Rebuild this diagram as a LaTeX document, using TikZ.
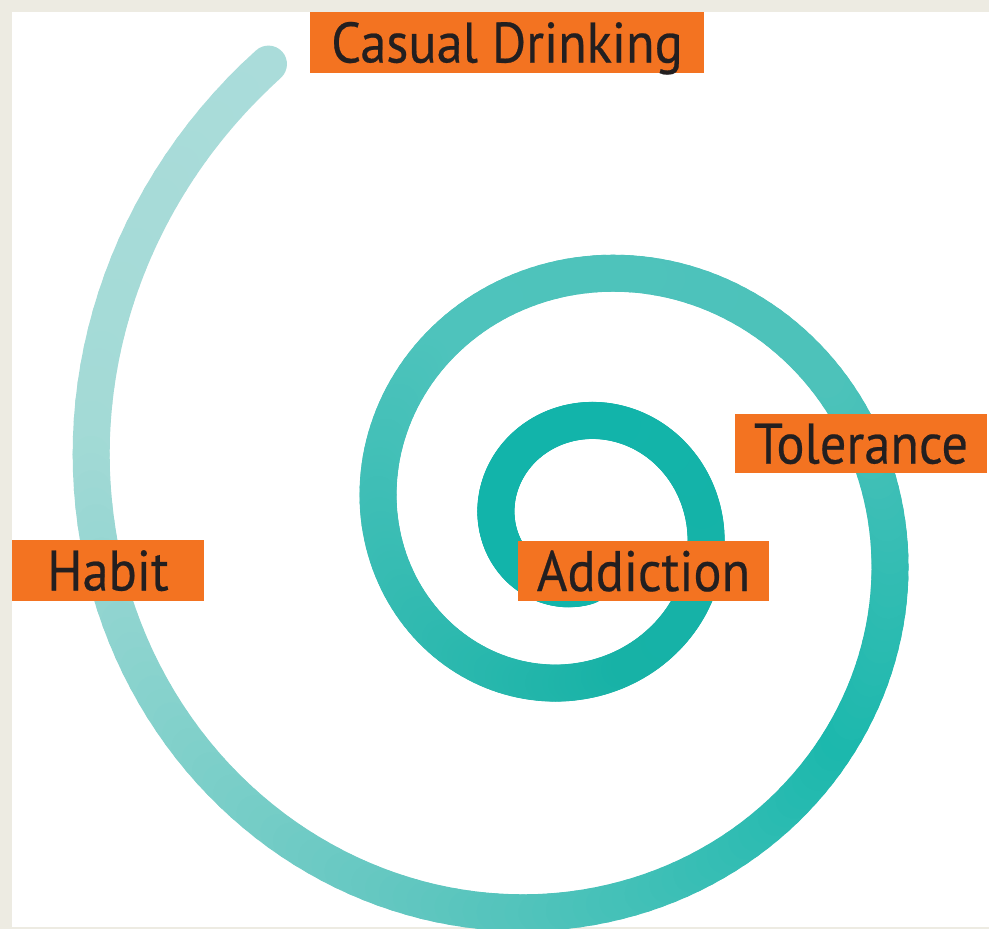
\documentclass[tikz,border=0pt]{standalone}
\usepackage{fontspec}
\newfontfamily\labelfont[FakeStretch=0.92,FakeBold=0.4]{PT Sans}
\definecolor{frame}{RGB}{237,235,226}
\definecolor{tagorange}{RGB}{243,115,33}
\definecolor{ink}{RGB}{35,31,32}
\definecolor{sA}{RGB}{170,220,218}
\definecolor{sB}{RGB}{163,218,214}
\definecolor{sC}{RGB}{94,198,191}
\definecolor{sD}{RGB}{28,184,173}
\definecolor{sE}{RGB}{77,194,186}
\definecolor{sF}{RGB}{78,195,188}
\definecolor{sG}{RGB}{23,178,166}
\definecolor{sH}{RGB}{18,180,170}
\tikzset{
  coil/.style={line width=37pt, line cap=round},
  stage/.style={fill=tagorange, text=ink, inner sep=0pt, text height=40pt, text depth=0pt,
    font=\labelfont\fontsize{57}{60}\selectfont},
}
\begin{document}
\begin{tikzpicture}[x=1pt,y=-1pt]
\useasboundingbox (0,0) rectangle (989,929);
\fill[frame] (0,0) rectangle (989,929);
\fill[white] (12,12) rectangle (989,927);
\foreach \a/\b/\ca/\cb in {124/170/sA/sB,170/250/sB/sC,250/320/sC/sD,320/390/sD/sE,
  390/490/sE/sF,490/650/sF/sG,650/800/sG/sH,800/1000/sH/sH}{
  \pgfmathtruncatemacro\n{\a+2}
  \pgfmathtruncatemacro\e{\b-2}
  \foreach \t in {\a,\n,...,\e}{
    \pgfmathsetmacro\p{(\b-\t)/(\b-\a)*100}
    \pgfmathsetmacro\r{482*exp(-0.0024794*(\t-180))}
    \pgfmathsetmacro\s{482*exp(-0.0024794*(\t-178))}
    \draw[coil,\ca!\p!\cb] ({578+\r*cos(\t)},{523-\r*sin(\t)})
      -- ({578+\s*cos(\t+2)},{523-\s*sin(\t+2)});
  }
}
\node[stage, minimum width=394pt, minimum height=61pt] (casual) at (507,42.5) {Casual Drinking};
\node[stage, minimum width=192pt, minimum height=61pt] (habit) at (108,570.5) {Habit};
\node[stage, minimum width=252pt, minimum height=59pt] (tolerance) at (861,443.5) {Tolerance};
\node[stage, minimum width=251pt, minimum height=60pt] (addiction) at (643.5,571) {Addiction};
\end{tikzpicture}
\end{document}
